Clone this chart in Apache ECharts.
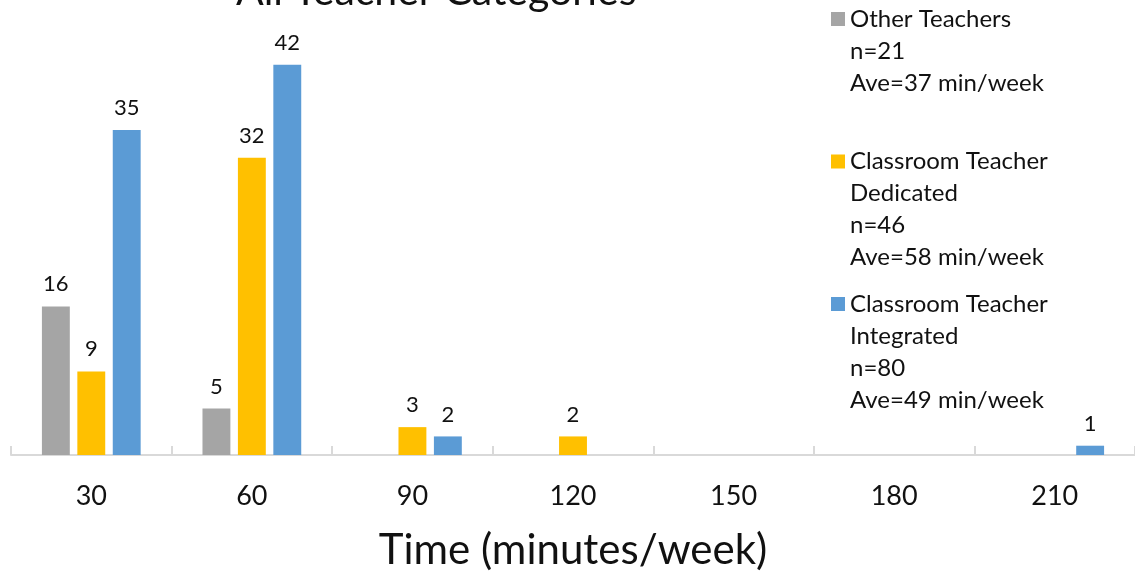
<!DOCTYPE html>
<html>
<head>
<meta charset="utf-8">
<script src="https://cdn.jsdelivr.net/npm/echarts@6/dist/echarts.min.js"></script>
<style>
html,body{margin:0;padding:0;background:#fff;}
#chart{width:1135px;height:578px;}
</style>
</head>
<body>
<div id="chart"></div>
<script>
var categories = ['30', '60', '90', '120', '150', '180', '210'];
var otherTeachers = [16, 5, 0, 0, 0, 0, 0];
var dedicated = [9, 32, 3, 2, 0, 0, 0];
var integrated = [35, 42, 2, 0, 0, 0, 1];
var seriesNames = ['Other Teachers', 'Classroom Teacher Dedicated', 'Classroom Teacher Integrated'];
var legendLines = {
  'Other Teachers': 'Other Teachers\nn=21\nAve=37 min/week\n',
  'Classroom Teacher Dedicated': 'Classroom Teacher\nDedicated\nn=46\nAve=58 min/week',
  'Classroom Teacher Integrated': 'Classroom Teacher\nIntegrated\nn=80\nAve=49 min/week'
};
var titleText = 'All Teacher Categories';
var xAxisTitle = 'Time (minutes/week)';

var FONT = 'Lato';
var chart = echarts.init(document.getElementById('chart'), null, {renderer: 'canvas'});

function labelCfg() {
  return {
    show: true,
    position: 'top',
    distance: 11,
    fontFamily: FONT,
    fontSize: 22,
    color: '#111',
    formatter: function (p) { return p.value === 0 ? '' : String(p.value); }
  };
}

var option = {
  backgroundColor: '#ffffff',
  animation: false,
  title: {
    text: titleText,
    left: 236,
    top: -29,
    padding: 0,
    textStyle: {fontFamily: FONT, fontSize: 41, fontWeight: 'normal', color: '#111'}
  },
  legend: {
    orient: 'vertical',
    left: 831,
    top: 3,
    padding: 0,
    itemGap: 14.5,
    itemWidth: 14,
    itemHeight: 110,
    icon: 'path://M0,0H14V14H0Z M0,110L0.01,110',
    itemStyle: {borderWidth: 0},
    selectedMode: false,
    data: seriesNames,
    formatter: function (name) { return legendLines[name]; },
    textStyle: {fontFamily: FONT, fontSize: 24, lineHeight: 32, color: '#111'}
  },
  grid: {left: 11, top: 37, width: 1128, height: 418, containLabel: false},
  xAxis: {
    type: 'category',
    data: categories,
    axisLine: {show: true, lineStyle: {color: '#d9d9d9', width: 2}},
    axisTick: {show: true, inside: true, length: 9, alignWithLabel: false, lineStyle: {color: '#d9d9d9', width: 2}},
    axisLabel: {margin: 28, fontFamily: FONT, fontSize: 27, color: '#111'},
    name: xAxisTitle,
    nameLocation: 'middle',
    nameGap: 74,
    nameTextStyle: {fontFamily: FONT, fontSize: 42, color: '#111'}
  },
  yAxis: {
    type: 'value',
    min: 0,
    max: 45,
    show: false,
    splitLine: {show: false}
  },
  series: [
    {
      name: seriesNames[0], type: 'bar', data: otherTeachers,
      barGap: '27%', barCategoryGap: '38.5%',
      itemStyle: {color: '#a5a5a5'},
      label: labelCfg()
    },
    {
      name: seriesNames[1], type: 'bar', data: dedicated,
      barGap: '27%', barCategoryGap: '38.5%',
      itemStyle: {color: '#ffc000'},
      label: labelCfg()
    },
    {
      name: seriesNames[2], type: 'bar', data: integrated,
      barGap: '27%', barCategoryGap: '38.5%',
      itemStyle: {color: '#5b9bd5'},
      label: labelCfg()
    }
  ]
};
chart.setOption(option);
</script>
</body>
</html>
